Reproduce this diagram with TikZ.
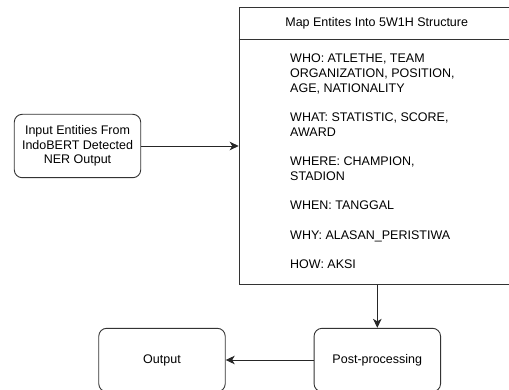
\documentclass[tikz,border=0pt]{standalone}
\usepackage{fontspec}
\setmainfont{Liberation Sans}
\usetikzlibrary{arrows.meta}
\begin{document}
\begin{tikzpicture}[x=1pt,y=-1pt,
  txt/.style={font=\fontsize{12.5}{14.7}\selectfont},
  box/.style={txt, draw=black!80, line width=0.9pt, rounded corners=8pt, minimum width=126.5pt, minimum height=63.4pt, align=center, inner sep=2pt},
  frame/.style={draw=black!80, line width=0.9pt},
  arr/.style={draw=black!85, line width=0.9pt, -{Stealth[length=9pt,width=8.5pt,inset=2.5pt]}}]
\useasboundingbox (0,0) rectangle (509,390);
\node[box] (in) at (77.5,146) {Input Entities From\\IndoBERT Detected\\NER Output};
\node[frame, minimum width=276.3pt, minimum height=277pt, anchor=north west, inner sep=0pt] (map) at (238.7,7.3) {};
\coordinate (hl) at (238.7,39);
\coordinate (hr) at (515,39);
\draw[frame] (hl) -- (hr);
\node[txt] (hdr) at (376.7,23.3) {Map Entites Into 5W1H Structure};
\node[txt, anchor=north west, align=left, inner sep=0pt] (body) at (290,54) {WHO: ATLETHE, TEAM\\ORGANIZATION, POSITION,\\AGE, NATIONALITY\\[14.7pt]WHAT: STATISTIC, SCORE,\\AWARD\\[14.7pt]WHERE: CHAMPION,\\STADION\\[14.7pt]WHEN: TANGGAL\\[14.7pt]WHY: ALASAN\_PERISTIWA\\[14.7pt]HOW: AKSI};
\node[box] (post) at (377.3,360) {Post-processing};
\node[box] (out) at (162,360) {Output};
\draw[arr] (in.east) -- (map.west |- in.east);
\draw[arr] (post.north |- map.south) -- (post.north);
\draw[arr] (post.west) -- (out.east);
\end{tikzpicture}
\end{document}
